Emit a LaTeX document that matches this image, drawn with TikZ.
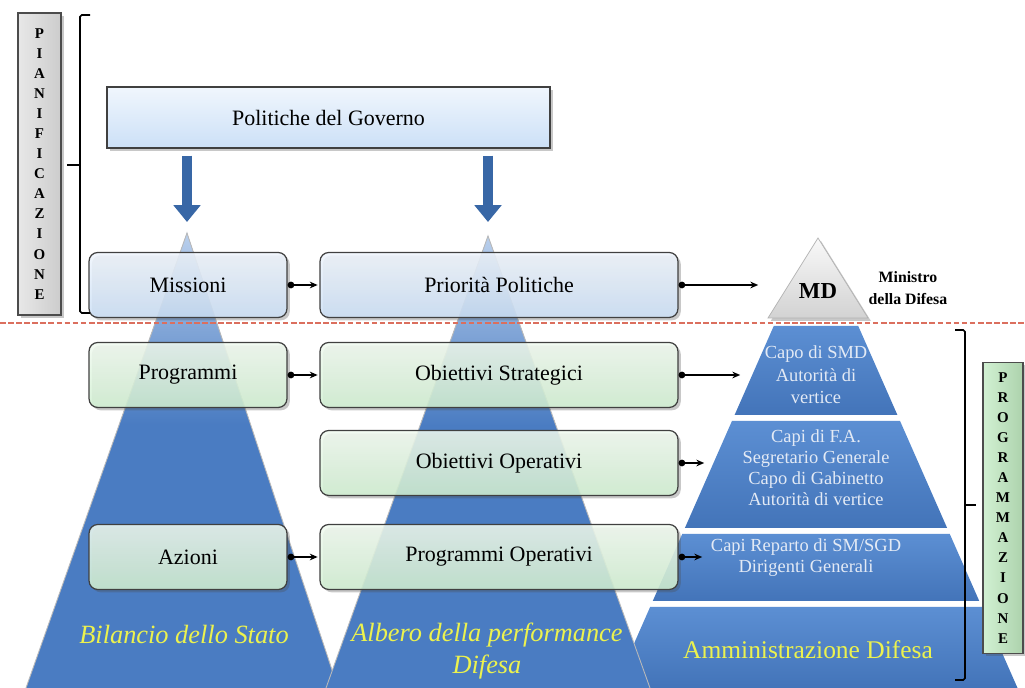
\documentclass[tikz,border=0pt]{standalone}
\usepackage{fontspec}
\setmainfont{Liberation Serif}
\usetikzlibrary{arrows.meta,shadows,calc}
\definecolor{pyrblue}{HTML}{4A7CC2}
\definecolor{pyrlight}{HTML}{B9CFEC}
\definecolor{layertop}{HTML}{5C8FD3}
\definecolor{layerbot}{HTML}{4374B9}
\definecolor{bluetop}{HTML}{F0F6FD}
\definecolor{bluebot}{HTML}{CCE0F7}
\definecolor{greentop}{HTML}{F2FBF1}
\definecolor{greenbot}{HTML}{D2F1D3}
\definecolor{arrowblue}{HTML}{3867A6}
\definecolor{cutred}{HTML}{DB6F5E}
\definecolor{footyellow}{HTML}{ECF24E}
\definecolor{layertext}{HTML}{E3EAF5}
\tikzset{
  shadowed/.style={drop shadow={shadow xshift=1.6pt,shadow yshift=-1.6pt,opacity=0.3,fill=black!70}},
  bluebox/.style={shadowed,draw=black!75,line width=0.7pt,rounded corners=5pt,
    top color=bluetop,bottom color=bluebot,fill opacity=0.86,text opacity=1,
    inner sep=0pt,font=\fontsize{12.5}{14}\selectfont},
  greenbox/.style={bluebox,top color=greentop,bottom color=greenbot},
  narrowbox/.style={minimum width=3.96cm,minimum height=1.3cm},
  widebox/.style={minimum width=7.16cm,minimum height=1.3cm},
  sidebox/.style={shadowed,draw=black!70,line width=0.7pt,inner sep=0pt,align=center,
    font=\bfseries\fontsize{8.5}{11.4}\selectfont},
  link/.style={line width=0.85pt,arrows={Circle[length=3.8pt]-Stealth[length=4.5pt,width=3.8pt]},shorten >=1pt},
  bigarrow/.style={arrowblue,line width=5.6pt,arrows={-Triangle[length=9.6pt,width=15pt]}},
  bracket/.style={line width=0.9pt,rounded corners=1pt},
  edge/.style={gray!55,line width=0.5pt},
  layer/.style={top color=layertop,bottom color=layerbot},
  layerlabel/.style={text=layertext,align=center,font=\fontsize{10.5}{12}\selectfont},
  footlabel/.style={text=footyellow,align=center,font=\itshape\fontsize{15}{18.7}\selectfont}
}
\begin{document}
\begin{tikzpicture}[x=0.02cm,y=-0.02cm]
\useasboundingbox (0,0) rectangle (1025,688);
\fill[white] (0,0) rectangle (1025,688);

\coordinate (ltop) at (187,233);
\coordinate (lbl) at (26,688);
\coordinate (lbr) at (338,688);
\coordinate (mtop) at (488,236);
\coordinate (mbl) at (326,688);
\coordinate (mbr) at (650,688);
\coordinate (rtop) at (818,238);

\foreach \ya/\yb in {326/415,421/528,534/601,607/688}
  \shade[layer] ({816-0.44*(\ya-230)},\ya) -- ({816+0.44*(\ya-230)},\ya) -- ({816+0.44*(\yb-230)},\yb) -- ({816-0.44*(\yb-230)},\yb) -- cycle;
\shade[shadowed,top color=gray!5,bottom color=gray!35,draw=gray!60] (rtop) -- (868,318) -- (768,318) -- cycle;

\fill[pyrblue] (ltop) -- (lbr) -- (lbl) -- cycle;
\shade[top color=pyrlight,bottom color=pyrblue] (ltop) -- ($(ltop)!0.42!(lbr)$) -- ($(ltop)!0.42!(lbl)$) -- cycle;
\draw[edge] (lbl) -- (ltop) -- (lbr);
\fill[pyrblue] (mtop) -- (mbr) -- (mbl) -- cycle;
\shade[top color=pyrlight,bottom color=pyrblue] (mtop) -- ($(mtop)!0.42!(mbr)$) -- ($(mtop)!0.42!(mbl)$) -- cycle;
\draw[edge] (mbl) -- (mtop) -- (mbr);

\draw[cutred,line width=0.9pt,dash pattern=on 3.2pt off 1.4pt] (0,323) -- (1025,323);

\node[bluebox,sharp corners,fill opacity=1,minimum width=8.86cm,minimum height=1.22cm] (pol) at (328.5,117.5) {Politiche del Governo};
\node[bluebox,narrowbox] (mis) at (188,285) {Missioni};
\node[bluebox,widebox] (pp) at (499,285) {Priorità Politiche};
\node[greenbox,narrowbox] (prg) at (188,375) {Programmi};
\node[greenbox,widebox] (os) at (499,375) {Obiettivi Strategici};
\node[greenbox,widebox] (oo) at (499,463) {Obiettivi Operativi};
\node[greenbox,narrowbox] (az) at (188,557) {Azioni};
\node[greenbox,widebox] (po) at (499,557) {Programmi Operativi};

\coordinate (misdrop) at (187,222);
\coordinate (ppdrop) at (488,222);
\draw[bigarrow] ($(pol.south -| misdrop)+(0,7)$) -- (misdrop);
\draw[bigarrow] ($(pol.south -| ppdrop)+(0,7)$) -- (ppdrop);

\coordinate (mdin) at (760,285);
\coordinate (smdin) at (742,375);
\coordinate (fain) at (706,463);
\coordinate (repin) at (704,557);
\draw[link] (mis) -- (pp);
\draw[link] (prg) -- (os);
\draw[link] (az) -- (po);
\draw[link] (pp) -- (mdin);
\draw[link] (os) -- (smdin);
\draw[link] (oo) -- (fain);
\draw[link] (po) -- (repin);

\node[font=\bfseries\fontsize{13}{15}\selectfont] (md) at (818,291) {MD};
\node[font=\bfseries\fontsize{9}{12.5}\selectfont,align=center] (min) at (908,288) {Ministro\\della Difesa};
\node[layerlabel,font=\fontsize{10.5}{12.8}\selectfont] (smd) at (816,375) {Capo di SMD\\Autorità di\\vertice};
\node[layerlabel] (fa) at (816,468) {Capi di F.A.\\Segretario Generale\\Capo di Gabinetto\\Autorità di vertice};
\node[layerlabel] (rep) at (806,558) {Capi Reparto di SM/SGD\\Dirigenti Generali};
\node[text=footyellow,font=\fontsize{14.5}{17}\selectfont] (amm) at (808,650) {Amministrazione Difesa};
\node[footlabel] (bil) at (184,634) {Bilancio dello Stato};
\node[footlabel] (alb) at (487,651) {Albero della performance\\Difesa};

\node[sidebox,left color=gray!18,middle color=white!92!blue,right color=gray!40,minimum width=0.86cm,minimum height=6.04cm] (plan) at (39.5,164) {P\\I\\A\\N\\I\\F\\I\\C\\A\\Z\\I\\O\\N\\E};
\node[sidebox,left color=greenbot,middle color=greentop,right color=green!30!gray!50,minimum width=0.8cm,minimum height=5.82cm] (prog) at (1003,508) {P\\R\\O\\G\\R\\A\\M\\M\\A\\Z\\I\\O\\N\\E};

\draw[bracket] (90,15) -- (80,15) -- (80,313) -- (90,313);
\draw[bracket] (80,165) -- (67,165);
\draw[bracket] (955,330) -- (965,330) -- (965,680) -- (955,680);
\draw[bracket] (965,505) -- (976,505);
\end{tikzpicture}
\end{document}
